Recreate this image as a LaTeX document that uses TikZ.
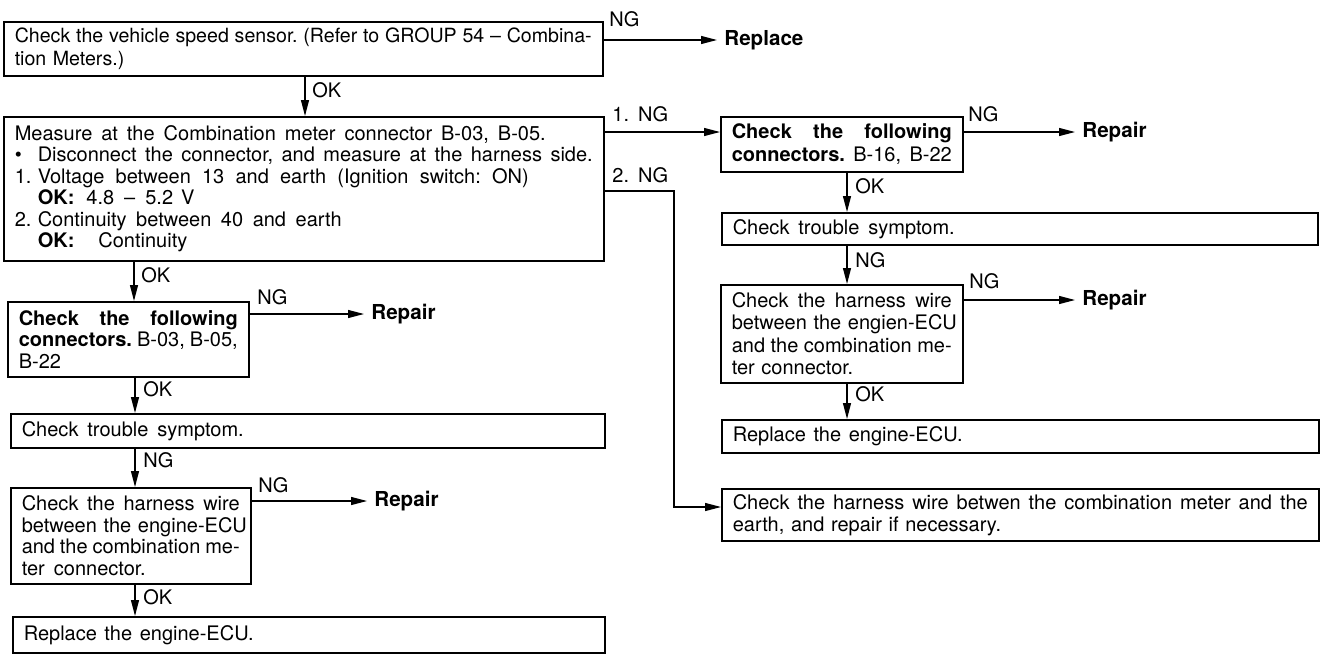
\documentclass[tikz,border=0pt]{standalone}
\usepackage{fontspec}
\setmainfont{TeX Gyre Heros}
\usetikzlibrary{arrows.meta}
\setlength{\parindent}{0pt}
\frenchspacing
% a line spread to a given width: interword spaces share the extra room
\newcommand\jl[2]{\leavevmode\hbox to #1{%
  \spaceskip=0.278em plus 1fil minus 0.12em\relax
  \xspaceskip=\spaceskip #2}}
% hanging label for numbered / bulleted items
\newcommand\hng[1]{\hbox to 11.5pt{#1\hfil}}
\begin{document}
\begin{tikzpicture}[x=0.5pt,y=-0.5pt,
  box/.style={draw, line width=0.75pt, anchor=north west, inner xsep=5.5pt, inner ysep=0pt,
              align=left, font=\fontsize{10}{10.8}\selectfont},
  lbl/.style={anchor=west, inner sep=0pt, font=\fontsize{10}{10.8}\selectfont},
  res/.style={anchor=west, inner xsep=3.5pt, inner ysep=0pt, font=\fontsize{10.3}{11}\selectfont\bfseries},
  arr/.style={line width=0.6pt, -{Triangle[length=8pt,width=4pt]}}]
\useasboundingbox (0,0) rectangle (1321,653);

% ---------- left column ----------
\node[box, text width=288.5pt, minimum height=27pt, font=\fontsize{9.8}{11.5}\selectfont] (b1) at (3,21)
  {\jl{288.5pt}{Check the vehicle speed sensor. (Refer to GROUP 54 -- Combina-}\\tion Meters.)};

\node[box, text width=289pt, minimum height=72pt, font=\fontsize{10}{10.7}\selectfont] (b2) at (3,116)
  {\jl{265.5pt}{Measure at the Combination meter connector B-03, B-05.}\\
   \jl{289pt}{\hng{\textbullet}Disconnect the connector, and measure at the harness side.}\\
   \jl{257pt}{\hng{1.}Voltage between 13 and earth (Ignition switch: ON)}\\
   \hspace*{11.5pt}\textbf{OK:}\hspace{0.6em}4.8\hspace{0.5em}--\hspace{0.5em}5.2\hspace{0.4em}V\\
   \jl{163.5pt}{\hng{2.}Continuity between 40 and earth}\\
   \hspace*{11.5pt}\textbf{OK:}\hspace{1.2em}Continuity};

\node[box, text width=109.5pt, minimum height=37.5pt] (l1) at (7,301)
  {\jl{109.5pt}{\textbf{Check the following}}\\\jl{109.5pt}{\textbf{connectors.} B-03, B-05,}\\B-22};

\node[box, text width=286pt, minimum height=17pt] (l2) at (10,413)
  {\jl{111pt}{Check trouble symptom.}};

\node[box, text width=109pt, minimum height=48pt] (l3) at (10,487)
  {\jl{109pt}{Check the harness wire}\\\mbox{between the engine-ECU}\\\jl{109pt}{and the combination me-}\\\jl{62pt}{ter connector.}};

\node[box, text width=285pt, minimum height=18pt] (l4) at (12,616)
  {\jl{115pt}{Replace the engine-ECU.}};

% ---------- right column ----------
\node[box, text width=110pt, minimum height=27.5pt, font=\fontsize{10}{11.5}\selectfont] (r1) at (720,116)
  {\jl{110pt}{\textbf{Check the following}}\\\jl{110pt}{\textbf{connectors.} B-16, B-22}};

\node[box, text width=287pt, minimum height=16pt] (r2) at (721,212)
  {\jl{111pt}{Check trouble symptom.}};

\node[box, text width=110pt, minimum height=49pt, font=\fontsize{10}{11.1}\selectfont] (r3) at (720,284)
  {\jl{110pt}{Check the harness wire}\\\mbox{between the engien-ECU}\\\jl{110pt}{and the combination me-}\\ter connector.};

\node[box, text width=287.5pt, minimum height=16.5pt] (r4) at (721,419)
  {\jl{115pt}{Replace the engine-ECU.}};

\node[box, text width=287.5pt, minimum height=26pt, font=\fontsize{10}{11}\selectfont] (r5) at (721,488)
  {\jl{287.5pt}{Check the harness wire betwen the combination meter and the}\\earth, and repair if necessary.};

% ---------- outcome texts ----------
\node[res] (rep0) at (717,40) {Replace};
\node[res] (rep1) at (1075,132) {Repair};
\node[res] (rep2) at (1075,300) {Repair};
\node[res] (rep3) at (364,314) {Repair};
\node[res] (rep4) at (367,501) {Repair};

% ---------- branch labels ----------
\node[lbl] (ng0) at (609,19) {NG};
\node[lbl] (ok1) at (312,90) {OK};
\node[lbl] (ng1) at (612,114) {1.\hspace{0.45em}NG};
\node[lbl] (ng2) at (612,175) {2.\hspace{0.45em}NG};
\node[lbl] (ng3) at (968,114) {NG};
\node[lbl] (ok4) at (855,186) {OK};
\node[lbl] (ng5) at (855,260) {NG};
\node[lbl] (ng6) at (969,281) {NG};
\node[lbl] (ok7) at (855,394) {OK};
\node[lbl] (ok8) at (141,275) {OK};
\node[lbl] (ng9) at (257,297) {NG};
\node[lbl] (ok10) at (143,389) {OK};
\node[lbl] (ng11) at (143,460) {NG};
\node[lbl] (ng12) at (258,485) {NG};
\node[lbl] (ok13) at (143,597) {OK};

% ---------- guide coordinates ----------
\coordinate (xa) at (305,0);
\coordinate (xb) at (134,0);
\coordinate (xc) at (135,0);
\coordinate (xd) at (847,0);
\coordinate (xe) at (674,0);
\coordinate (ya) at (0,132);
\coordinate (yb) at (0,191);
\coordinate (yc) at (0,507);

% ---------- connectors ----------
\draw[arr] (rep0.west -| b1.east) -- (rep0.west);
\draw[arr] (xa |- b1.south) -- (xa |- b2.north);
\draw[arr] (ya -| b2.east) -- (ya -| r1.west);
\draw[arr] (yb -| b2.east) -| (xe |- yc) -- (yc -| r5.west);

\draw[arr] (rep1.west -| r1.east) -- (rep1.west);
\draw[arr] (xd |- r1.south) -- (xd |- r2.north);
\draw[arr] (xd |- r2.south) -- (xd |- r3.north);
\draw[arr] (rep2.west -| r3.east) -- (rep2.west);
\draw[arr] (xd |- r3.south) -- (xd |- r4.north);

\draw[arr] (xb |- b2.south) -- (xb |- l1.north);
\draw[arr] (rep3.west -| l1.east) -- (rep3.west);
\draw[arr] (xc |- l1.south) -- (xc |- l2.north);
\draw[arr] (xc |- l2.south) -- (xc |- l3.north);
\draw[arr] (rep4.west -| l3.east) -- (rep4.west);
\draw[arr] (xc |- l3.south) -- (xc |- l4.north);
\end{tikzpicture}
\end{document}
